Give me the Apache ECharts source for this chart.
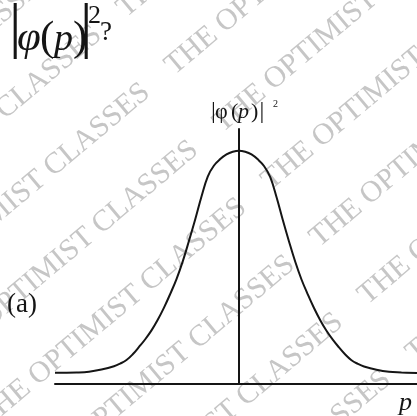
<!DOCTYPE html>
<html><head><meta charset="utf-8">
<script src="https://cdn.jsdelivr.net/npm/echarts@6/dist/echarts.min.js"></script>
<style>html,body{margin:0;padding:0;background:#fff}#c{width:417px;height:416px}</style>
</head><body><div id="c"></div>
<script>
// momentum values p (axis units) and |phi(p)|^2
const pValues = [-3.68, -3.25, -3.0, -2.75, -2.5, -2.375, -2.25, -2.125, -2.0, -1.875, -1.75, -1.625, -1.5, -1.375, -1.25,
                 -1.125, -1.0, -0.875, -0.75, -0.625, -0.5, -0.375, -0.25, -0.125, 0,
                 0.125, 0.25, 0.375, 0.5, 0.625, 0.75, 0.875, 1.0, 1.125, 1.25, 1.375, 1.5, 1.625, 1.75, 1.875,
                 2.0, 2.125, 2.25, 2.375, 2.5, 2.75, 3.0, 3.25, 3.56];
const densityValues = [0.049, 0.050, 0.053, 0.063, 0.078, 0.090, 0.106, 0.132, 0.165, 0.200, 0.240, 0.288, 0.343, 0.405, 0.472,
                       0.552, 0.645, 0.742, 0.845, 0.935, 0.985, 1.014, 1.035, 1.047, 1.052,
                       1.047, 1.035, 1.013, 0.983, 0.933, 0.843, 0.740, 0.642, 0.550, 0.470, 0.403, 0.341, 0.286, 0.238, 0.198,
                       0.163, 0.131, 0.105, 0.089, 0.077, 0.062, 0.053, 0.050, 0.047];
const xRange = [-3.68, 3.56];
const yRange = [0, 1.15];
const watermarkText = 'THE OPTIMIST CLASSES';
const partLabel = '(a)';
const axisName = 'p';

const SERIF = '"Liberation Serif", "Times New Roman", serif';
const INK = '#151515';

function glyph(text, x, baseline, fs, italic, z) {
  return {
    type: 'text', x: x, y: baseline - 0.27 * fs, z: z || 10, silent: true,
    style: {
      text: text, x: 0, y: 0, fill: INK, fontFamily: SERIF, fontSize: fs,
      fontStyle: italic ? 'italic' : 'normal',
      textAlign: 'left', align: 'left', textVerticalAlign: 'middle', verticalAlign: 'middle'
    }
  };
}

const elements = [];
// watermark
const ang = 40 * Math.PI / 180;
const ca = Math.cos(ang), sa = Math.sin(ang);
for (let k = 0; k < 9; k++) {
  const n = 12 + 75 * k;
  [-285, 85].forEach(function (t) {
    elements.push({
      type: 'text', x: ca * t + sa * n, y: -sa * t + ca * n, rotation: ang, z: 0, silent: true,
      style: {
        text: watermarkText, x: 0, y: 0, fill: '#c6c6c6', fontFamily: SERIF, fontSize: 30,
        textAlign: 'left', align: 'left', textVerticalAlign: 'middle', verticalAlign: 'middle'
      }
    });
  });
}
// question title |φ(p)|²?
elements.push(glyph('|', 9, 46, 62, false));
elements.push(glyph('φ', 17, 50, 43, true));
elements.push(glyph('(', 40, 50, 43, false));
elements.push(glyph('p', 54, 50, 38, true));
elements.push(glyph(')', 73, 50, 43, false));
elements.push(glyph('|', 80, 46, 62, false));
elements.push(glyph('2', 88, 23, 26, false));
elements.push(glyph('?', 100, 40, 27, false));
// axis label |φ (p)|²
elements.push(glyph('|', 211, 118, 24, false));
elements.push(glyph('φ', 215, 118, 22, false));
elements.push(glyph('(', 231, 118, 22, false));
elements.push(glyph('p', 238, 118, 22, true));
elements.push(glyph(')', 251, 118, 22, false));
elements.push(glyph('|', 259.5, 118, 24, false));
elements.push(glyph('2', 273, 107, 10, false));
// (a) and p
elements.push(glyph(partLabel, 7, 312, 27, false));
elements.push(glyph(axisName, 399, 410, 26, true));

const chart = echarts.init(document.getElementById('c'), null, { renderer: 'canvas' });
chart.setOption({
  animation: false,
  backgroundColor: '#ffffff',
  grid: { left: 55, right: 0, top: 129, bottom: 32.5, containLabel: false },
  xAxis: {
    type: 'value', min: xRange[0], max: xRange[1],
    axisLine: { show: true, onZero: true, lineStyle: { color: INK, width: 2 } },
    axisTick: { show: false }, axisLabel: { show: false }, splitLine: { show: false }
  },
  yAxis: {
    type: 'value', min: yRange[0], max: yRange[1],
    axisLine: { show: true, onZero: true, lineStyle: { color: INK, width: 2 } },
    axisTick: { show: false }, axisLabel: { show: false }, splitLine: { show: false }
  },
  series: [{
    type: 'line', smooth: 0.4, showSymbol: false, clip: false, z: 5,
    data: pValues.map(function (p, i) { return [p, densityValues[i]]; }),
    lineStyle: { color: INK, width: 2 }
  }],
  graphic: { elements: elements }
});
</script>
</body></html>
